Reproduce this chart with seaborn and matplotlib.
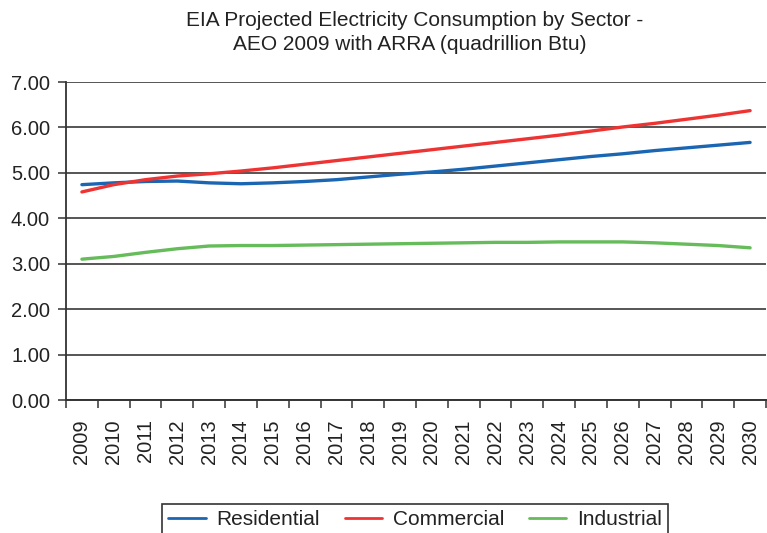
import matplotlib
matplotlib.use("Agg")
import matplotlib.pyplot as plt
import numpy as np
import pandas as pd
import seaborn as sns

years = [str(y) for y in range(2009, 2031)]
residential = [4.74, 4.78, 4.81, 4.82, 4.78, 4.76, 4.78, 4.81, 4.85, 4.91, 4.97,
               5.02, 5.08, 5.15, 5.22, 5.29, 5.36, 5.42, 5.49, 5.55, 5.61, 5.67]
commercial = [4.58, 4.74, 4.85, 4.93, 4.98, 5.04, 5.11, 5.19, 5.27, 5.35, 5.43,
              5.51, 5.59, 5.67, 5.75, 5.83, 5.92, 6.01, 6.09, 6.18, 6.27, 6.37]
industrial = [3.10, 3.16, 3.25, 3.33, 3.39, 3.40, 3.40, 3.41, 3.42, 3.43, 3.44,
              3.45, 3.46, 3.47, 3.47, 3.48, 3.48, 3.48, 3.46, 3.43, 3.40, 3.35]
series_names = ["Residential", "Commercial", "Industrial"]
y_ticks = [0, 1, 2, 3, 4, 5, 6, 7]

frames = []
for name, vals in zip(series_names, [residential, commercial, industrial]):
    frames.append(pd.DataFrame({"pos": np.arange(len(years)), "value": vals, "sector": name}))
df = pd.concat(frames, ignore_index=True)

sns.set_style("white")
plt.rcParams["font.family"] = ["Liberation Sans", "DejaVu Sans"]
plt.rcParams["xtick.bottom"] = True
plt.rcParams["ytick.left"] = True

fig = plt.figure(figsize=(7.67, 5.33), dpi=100)
ax = fig.add_axes([66 / 767, 1 - 400 / 533, 700 / 767, (400 - 82) / 533])

palette = {"Residential": "#1a66b3", "Commercial": "#ee3333", "Industrial": "#66bb5a"}
sns.lineplot(data=df, x="pos", y="value", hue="sector", palette=palette,
             linewidth=2.4, ax=ax, legend=False)

ax.set_xlim(-0.5, len(years) - 0.5)
ax.set_ylim(0, 7)
ax.set_yticks(y_ticks)
ax.set_yticklabels([f"{v:.2f}" for v in y_ticks], fontsize=14.5, color="#222222")
ax.set_xticks(np.arange(len(years)))
ax.set_xticklabels(years, rotation=90, fontsize=14.5, color="#222222")
ax.set_xticks(np.arange(len(years) + 1) - 0.5, minor=True)
ax.tick_params(axis="x", which="major", length=0, pad=14)
ax.tick_params(axis="x", which="minor", bottom=True, length=5.5, width=1.1, color="#333333")
ax.tick_params(axis="y", which="major", left=True, length=6, width=1.1, color="#333333", pad=5.5)
ax.set_xlabel("")
ax.set_ylabel("")

ax.yaxis.grid(True, color="#555555", linewidth=1.4)
ax.set_axisbelow(True)
for side in ["top", "right"]:
    ax.spines[side].set_visible(False)
ax.spines["left"].set_color("#333333")
ax.spines["left"].set_linewidth(1.3)
ax.spines["bottom"].set_color("#333333")
ax.spines["bottom"].set_linewidth(1.4)

fig.text(415 / 767, 1 - 20 / 533, "EIA Projected Electricity Consumption by Sector -",
         ha="center", va="center", fontsize=15, color="#222222")
fig.text(410 / 767, 1 - 45 / 533, "AEO 2009 with ARRA (quadrillion Btu)",
         ha="center", va="center", fontsize=15, color="#222222")

handles = [plt.Line2D([], [], color=palette[n], linewidth=2.0) for n in series_names]
leg = fig.legend(handles, series_names, loc="upper center", ncol=3,
                 bbox_to_anchor=(415 / 767, 1 - 504 / 533), frameon=True,
                 fancybox=False, edgecolor="black", fontsize=15,
                 handlelength=1.8, columnspacing=1.2, borderpad=0.3,
                 handletextpad=0.5, borderaxespad=0)
leg.get_frame().set_linewidth(1.2)
for t in leg.get_texts():
    t.set_color("#222222")

fig.savefig("out.png", dpi=100)
